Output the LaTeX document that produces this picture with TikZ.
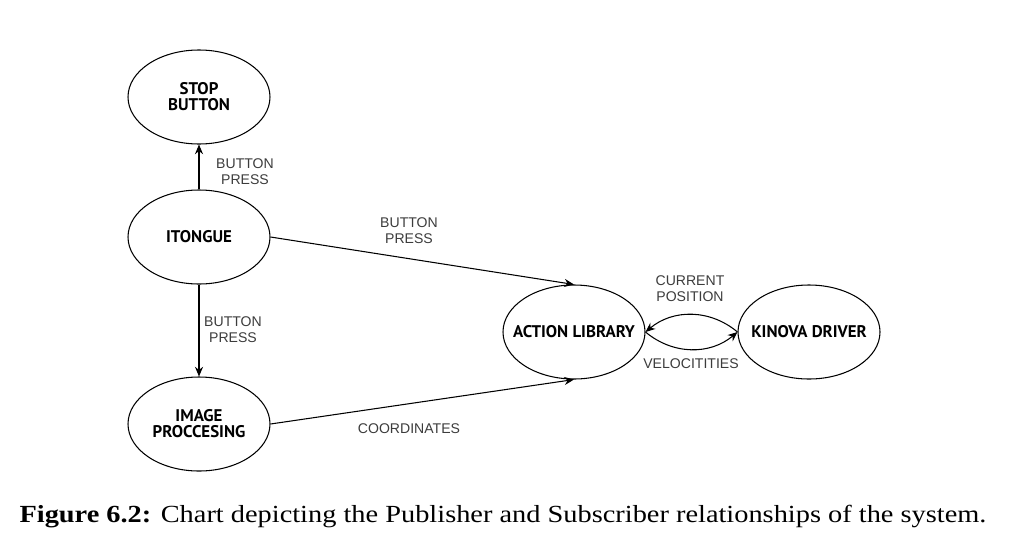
\documentclass[tikz,border=0pt]{standalone}
\usepackage{fontspec}
\setmainfont{Liberation Serif}
\setsansfont{Liberation Sans}
\newfontfamily\nodefont{PT Sans}
\usepackage{xcolor}
\usepackage{tikz}
\usetikzlibrary{shapes.geometric,arrows.meta,positioning}
\definecolor{msggray}{RGB}{60, 60, 60}

\begin{document}
\begin{tikzpicture}[x=0.2mm, y=-0.2mm,
        state/.style={ellipse, draw=black, line width=0.6pt, minimum width=28.4mm, minimum height=18.8mm, inner xsep=-3mm, inner ysep=0pt, align=center, font=\nodefont\bfseries\fontsize{9.6}{9.1}\selectfont},
        msg/.style={align=center, inner sep=0pt, text=msggray, font=\sffamily\fontsize{8}{9.1}\selectfont},
        arrow/.style={-{Stealth[length=5.5pt, width=4.6pt]}, line width=0.6pt}
    ]
        \useasboundingbox (0,0) rectangle (1009,549);
        \node[state] (stop) at (199,97) {STOP\\BUTTON};
        \node[state] (itongue) at (199,237) {ITONGUE};
        \node[state] (image) at (199,424) {IMAGE\\PROCCESING};
        \node[state] (action) at (574,332) {ACTION LIBRARY};
        \node[state] (kinova) at (809,332) {KINOVA DRIVER};
        \draw[arrow] (itongue) -- (stop);
        \draw[arrow] (itongue) -- (image);
        \draw[arrow] (itongue.east) -- (action.north);
        \draw[arrow] (image.east) -- (action.south);
        \draw[arrow] (kinova.west) to[bend right=40] (action.east);
        \draw[arrow] (action.east) to[bend right=40] (kinova.west);
        \node[msg] (pressstop) at (245,172) {BUTTON\\PRESS};
        \node[msg] (pressimage) at (233,330) {BUTTON\\PRESS};
        \node[msg] (pressaction) at (409,231) {BUTTON\\PRESS};
        \node[msg] (coords) at (409,429) {COORDINATES};
        \node[msg] (curpos) at (690,289) {CURRENT\\POSITION};
        \node[msg] (vel) at (691,364) {VELOCITITIES};
        \node[anchor=base, inner sep=0pt, font=\fontsize{14}{16}\selectfont] (caption) at (503,522) {\scalebox{1.153}[1]{\textbf{Figure 6.2:} Chart depicting the Publisher and Subscriber relationships of the system.}};
    \end{tikzpicture}
\end{document}
